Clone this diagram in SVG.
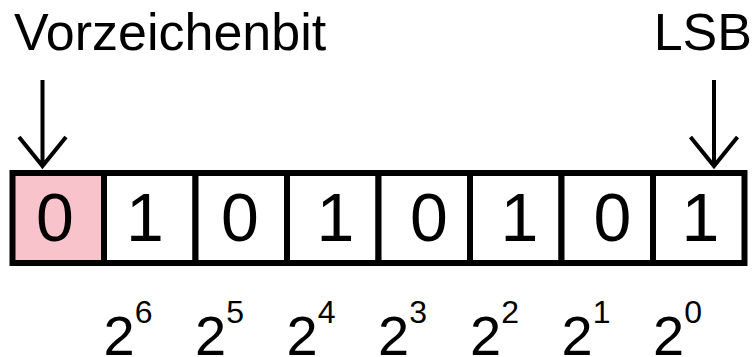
<svg xmlns="http://www.w3.org/2000/svg" width="755" height="357" viewBox="0 0 755 357">
<style>
text{font-family:"Liberation Sans",Arial,sans-serif;fill:#000}
.lbl{font-size:52px}
.bit{font-size:68px;text-anchor:middle}
.pw{font-size:56px}
.sup{font-size:32px}
.cell{fill:#fff;stroke:#000;stroke-width:6}
.arr{fill:none;stroke:#000;stroke-width:4;stroke-linecap:butt;stroke-linejoin:miter}
</style>
<rect width="755" height="357" fill="#fff"/>
<g id="labels">
<text class="lbl" x="14" y="50">Vorzeichenbit</text>
<text class="lbl" x="752" y="50" text-anchor="end">LSB</text>
</g>
<g id="connectors">
<path class="arr" d="M42.5,80 V166 M19,137 L42.5,166 L66,137"/>
<path class="arr" d="M714,80 V166 M690.5,137 L714,166 L737.5,137"/>
</g>
<g id="register">
<g id="b7"><rect class="cell" x="12.5" y="173" width="91.5" height="90" fill="#f8c3cb" style="fill:#f8c3cb"/><text class="bit" x="55" y="241">0</text></g>
<g id="b6"><rect class="cell" x="104" y="173" width="91.5" height="90"/><text class="bit" x="145" y="241">1</text></g>
<g id="b5"><rect class="cell" x="195.5" y="173" width="91.5" height="90"/><text class="bit" x="240" y="241">0</text></g>
<g id="b4"><rect class="cell" x="287" y="173" width="91.5" height="90"/><text class="bit" x="335.5" y="241">1</text></g>
<g id="b3"><rect class="cell" x="378.5" y="173" width="91.5" height="90"/><text class="bit" x="429" y="241">0</text></g>
<g id="b2"><rect class="cell" x="470" y="173" width="91.5" height="90"/><text class="bit" x="519.5" y="241">1</text></g>
<g id="b1"><rect class="cell" x="561.5" y="173" width="91.5" height="90"/><text class="bit" x="612.5" y="241">0</text></g>
<g id="b0"><rect class="cell" x="653" y="173" width="91.5" height="90"/><text class="bit" x="700.5" y="241">1</text></g>
</g>
<g id="weights">
<text class="pw" x="103.5" y="355">2<tspan class="sup" dy="-32">6</tspan></text>
<text class="pw" x="195" y="355">2<tspan class="sup" dy="-32">5</tspan></text>
<text class="pw" x="286.5" y="355">2<tspan class="sup" dy="-32">4</tspan></text>
<text class="pw" x="378" y="355">2<tspan class="sup" dy="-32">3</tspan></text>
<text class="pw" x="470" y="355">2<tspan class="sup" dy="-32">2</tspan></text>
<text class="pw" x="561.5" y="355">2<tspan class="sup" dy="-32">1</tspan></text>
<text class="pw" x="653" y="355">2<tspan class="sup" dy="-32">0</tspan></text>
</g>
</svg>
